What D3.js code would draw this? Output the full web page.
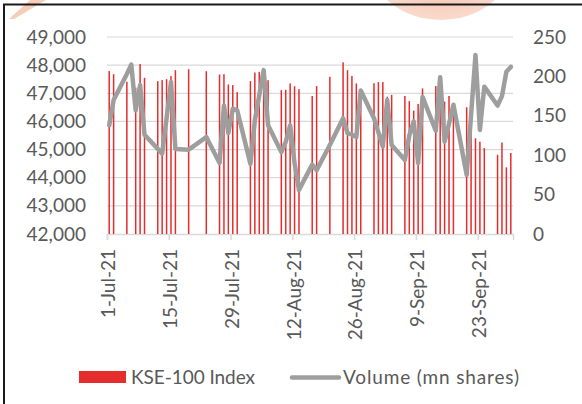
<!DOCTYPE html>
<html>
<head>
<meta charset="utf-8">
<script src="https://cdn.jsdelivr.net/npm/d3@7"></script>
<style>
  body { margin: 0; background: #fff; }
  svg { display: block; font-family: Lato, "Open Sans", sans-serif; }
</style>
</head>
<body>
<svg id="chart" width="582" height="404"></svg>
<script>
// trading days shown on the chart
const dates = [
  "2021-07-01","2021-07-02","2021-07-05","2021-07-06","2021-07-07","2021-07-08","2021-07-09",
  "2021-07-12","2021-07-13","2021-07-14","2021-07-15","2021-07-16","2021-07-19","2021-07-23",
  "2021-07-26","2021-07-27","2021-07-28","2021-07-29","2021-07-30",
  "2021-08-02","2021-08-03","2021-08-04","2021-08-05","2021-08-06",
  "2021-08-09","2021-08-10","2021-08-11","2021-08-12","2021-08-13",
  "2021-08-16","2021-08-17","2021-08-20",
  "2021-08-23","2021-08-24","2021-08-25","2021-08-26","2021-08-27",
  "2021-08-30","2021-08-31","2021-09-01","2021-09-02","2021-09-03",
  "2021-09-06","2021-09-07","2021-09-08","2021-09-09","2021-09-10",
  "2021-09-13","2021-09-14","2021-09-15","2021-09-16","2021-09-17",
  "2021-09-20","2021-09-21","2021-09-22","2021-09-23","2021-09-24",
  "2021-09-27","2021-09-28","2021-09-29","2021-09-30"
];

// KSE-100 Index (left axis), null where no bar is drawn
const kse = [
  47790, 47680, 47410, null, 47200, 48040, 47550,
  47430, 47468, 47500, 47610, 47822, 47855, 47785,
  47667, 47679, 47314, 47290, 47041,
  47431, 47738, 47762, 47800, 47466,
  47112, 47123, 47350, 47253, 47146,
  46903, 47255, 47585,
  48100, 47822, 47615, 47350, 47150,
  47356, 47397, 47397, 46880, 46945,
  46903, 46720, 46386, 46620, 47173,
  47256, 47100, 46704, 46904, 46647,
  46502, 45582, 45400, 45280, 45052,
  44816, 45252, 44368, 44878
];

// Volume (mn shares, right axis)
const volume = [
  138, 170, 203, 215, 157, 189, 126,
  108, 102, 147, 193, 108, 107, 123,
  90, 163, 128, 159, 157,
  89, 144, 176, 208, 138,
  104, 117, 138, 90, 56,
  88, 81, 113,
  147, 128, 126, 123, 182,
  147, 129, 111, 170, 113,
  94, 125, 143, 90, 174,
  131, 199, 117, 140, 164,
  75, 151, 227, 132, 187,
  163, 175, 206, 212
];

const xTicks = ["2021-07-01","2021-07-15","2021-07-29","2021-08-12","2021-08-26","2021-09-09","2021-09-23"];
const leftTicks = [42000, 43000, 44000, 45000, 46000, 47000, 48000, 49000];
const rightTicks = [0, 50, 100, 150, 200, 250];

const svg = d3.select("#chart");
const width = +svg.attr("width");
const height = +svg.attr("height");
const margin = { top: 37, right: 69, bottom: 170, left: 107 };
const innerWidth = width - margin.left - margin.right;
const innerHeight = height - margin.top - margin.bottom;

const textColor = "#595959";
const gridColor = "#d9d9d9";
const barColor = "#e52d2d";
const lineColor = "#9e9e9e";
const font = "Lato, 'Open Sans', sans-serif";

// faint watermark shapes and frame
const defs = svg.append("defs");
const grad = defs.append("radialGradient").attr("id", "wm");
grad.append("stop").attr("offset", "0%").attr("stop-color", "#f2a888");
grad.append("stop").attr("offset", "100%").attr("stop-color", "#f9d3c2");
svg.append("ellipse")
    .attr("cx", 441).attr("cy", -40)
    .attr("rx", 72).attr("ry", 60)
    .attr("fill", "url(#wm)")
    .attr("opacity", 0.85);
svg.append("path")
    .attr("d", "M9,19 L14,19 L46,0 L30,0 Z")
    .attr("fill", "#f3c0a6")
    .attr("opacity", 0.8);
svg.append("path")
    .attr("d", `M4,${height} V4.5 H${width}`)
    .attr("fill", "none")
    .attr("stroke", "#1a1a1a")
    .attr("stroke-width", 2);

const g = svg.append("g")
    .attr("transform", `translate(${margin.left},${margin.top})`);

const parse = d3.utcParse("%Y-%m-%d");
const fmt = d3.utcFormat("%-d-%b-%y");

const rows = dates.map((d, i) => ({ date: parse(d), kse: kse[i], vol: volume[i] }));

// scales
const xScale = d3.scaleUtc()
    .domain([parse("2021-07-01"), parse("2021-10-01")])
    .range([0, innerWidth]);

const yLeft = d3.scaleLinear()
    .domain([42000, 49000])
    .range([innerHeight, 0]);

const yRight = d3.scaleLinear()
    .domain([0, 250])
    .range([innerHeight, 0]);

const mid = d => xScale(d3.utcHour.offset(d, 12));

// gridlines
g.append("g")
    .selectAll("line")
    .data(leftTicks.slice(1))
    .enter()
    .append("line")
    .attr("x1", 0)
    .attr("x2", innerWidth)
    .attr("y1", d => yLeft(d))
    .attr("y2", d => yLeft(d))
    .attr("stroke", gridColor)
    .attr("stroke-width", 1.2);

// axes
const yAxisLeft = d3.axisLeft(yLeft)
    .tickValues(leftTicks)
    .tickSize(0)
    .tickPadding(21)
    .tickFormat(d3.format(","));

const yAxisRight = d3.axisRight(yRight)
    .tickValues(rightTicks)
    .tickSize(0)
    .tickPadding(20);

const gyl = g.append("g").call(yAxisLeft);
const gyr = g.append("g")
    .attr("transform", `translate(${innerWidth},0)`)
    .call(yAxisRight);

[gyl, gyr].forEach(a => {
    a.attr("font-size", 19).attr("font-family", font);
    a.select(".domain").remove();
    a.selectAll("text").attr("fill", textColor);
});

const xAxis = d3.axisBottom(xScale)
    .tickValues(xTicks.map(parse))
    .tickSize(6)
    .tickFormat(fmt);

const gx = g.append("g")
    .attr("transform", `translate(0,${innerHeight})`)
    .call(xAxis)
    .attr("font-size", 19)
    .attr("font-family", font);

gx.select(".domain").attr("stroke", gridColor).attr("stroke-width", 1.5);
gx.selectAll(".tick line").attr("stroke", gridColor).attr("stroke-width", 1.5);
gx.selectAll("text")
    .attr("fill", textColor)
    .attr("text-anchor", "end")
    .attr("transform", "rotate(-90)")
    .attr("x", -15)
    .attr("y", 1)
    .attr("dy", "0.35em");

// bars
g.append("g")
    .selectAll("rect")
    .data(rows.filter(d => d.kse != null))
    .enter()
    .append("rect")
    .attr("x", d => mid(d.date) - 0.75)
    .attr("width", 1.5)
    .attr("y", d => yLeft(d.kse))
    .attr("height", d => innerHeight - yLeft(d.kse))
    .attr("fill", barColor);

// volume line
const line = d3.line()
    .x(d => mid(d.date))
    .y(d => yRight(d.vol));

g.append("path")
    .datum(rows)
    .attr("d", line)
    .attr("fill", "none")
    .attr("stroke", lineColor)
    .attr("stroke-width", 4.5)
    .attr("stroke-linejoin", "round")
    .attr("stroke-linecap", "round");

// legend
const legend = svg.append("g")
    .attr("font-size", 19)
    .attr("font-family", font);
legend.append("rect")
    .attr("x", 79).attr("y", 371)
    .attr("width", 47).attr("height", 12)
    .attr("fill", barColor);
legend.append("text")
    .attr("x", 131).attr("y", 377)
    .attr("dy", "0.35em")
    .attr("fill", textColor)
    .attr("textLength", 124)
    .attr("lengthAdjust", "spacing")
    .text("KSE-100 Index");
legend.append("line")
    .attr("x1", 292).attr("x2", 339)
    .attr("y1", 377.5).attr("y2", 377.5)
    .attr("stroke", lineColor)
    .attr("stroke-width", 4.5)
    .attr("stroke-linecap", "round");
legend.append("text")
    .attr("x", 343).attr("y", 377)
    .attr("dy", "0.35em")
    .attr("fill", textColor)
    .attr("textLength", 176)
    .attr("lengthAdjust", "spacing")
    .text("Volume (mn shares)");
</script>
</body>
</html>
